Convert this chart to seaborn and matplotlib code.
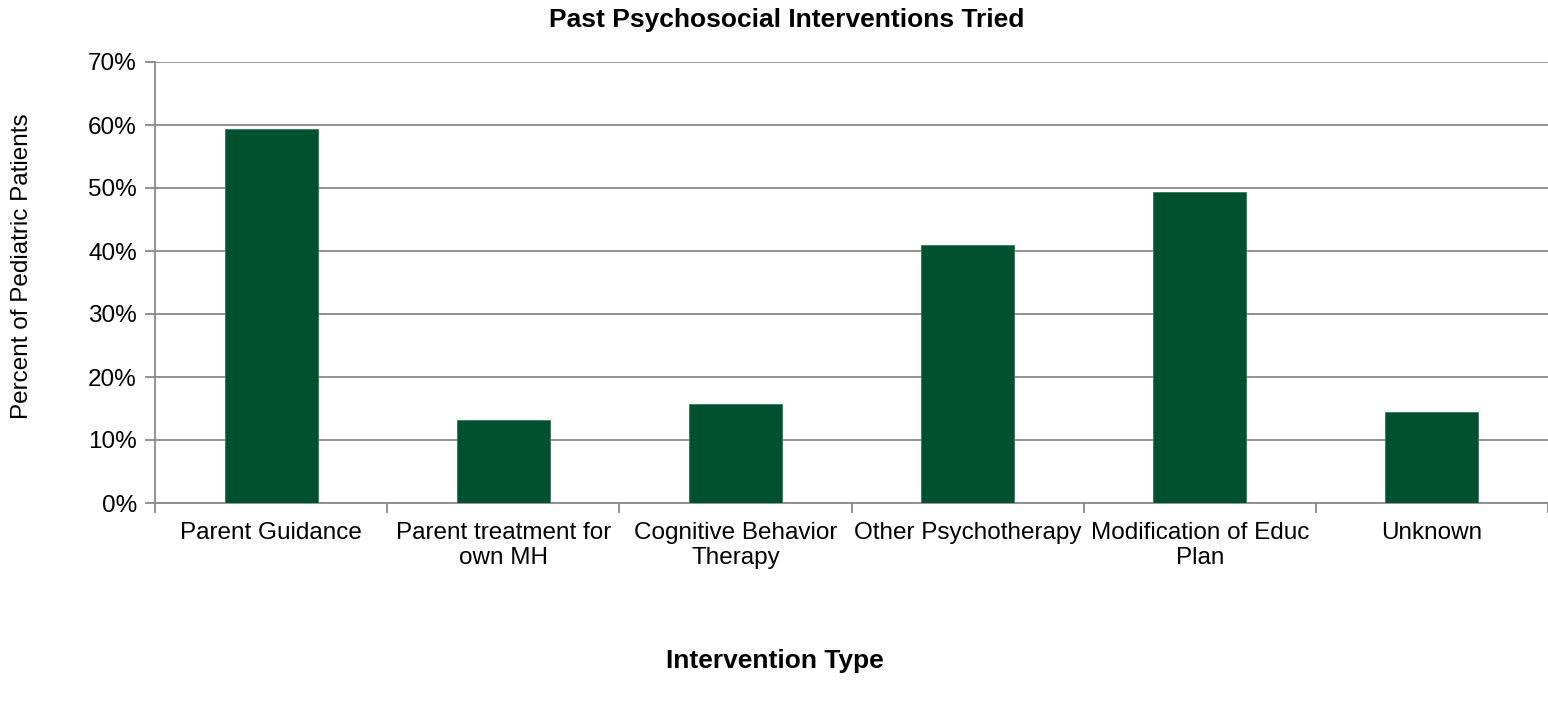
import matplotlib
matplotlib.use("Agg")
import matplotlib.pyplot as plt
from matplotlib.ticker import FixedLocator, PercentFormatter
import seaborn as sns
import pandas as pd

categories = [
    "Parent Guidance",
    "Parent treatment for\nown MH",
    "Cognitive Behavior\nTherapy",
    "Other Psychotherapy",
    "Modification of Educ\nPlan",
    "Unknown",
]
percent_patients = [59.4, 13.2, 15.7, 41.0, 49.4, 14.4]
y_ticks = [0, 10, 20, 30, 40, 50, 60, 70]

title = "Past Psychosocial Interventions Tried"
x_label = "Intervention Type"
y_label = "Percent of Pediatric Patients"

bar_color = "#01502F"
grid_color = "#898989"

sns.set_theme(style="white")
plt.rcParams["font.family"] = ["Liberation Sans", "DejaVu Sans"]

df = pd.DataFrame({"category": categories, "value": percent_patients})

fig = plt.figure(figsize=(15.48, 7.02), dpi=100)
ax = fig.add_axes([155 / 1548, 1 - 503 / 702, (1548 - 155) / 1548, (503 - 62) / 702])

sns.barplot(data=df, x="category", y="value", color=bar_color, width=0.4,
            saturation=1, edgecolor="#2E7A5A", linewidth=0.6, ax=ax, zorder=3)

ax.set_xlim(-0.5, len(categories) - 0.5)
ax.set_ylim(0, 70)
ax.yaxis.set_major_locator(FixedLocator(y_ticks))
ax.yaxis.set_major_formatter(PercentFormatter(decimals=0))
ax.grid(axis="y", color=grid_color, linewidth=1.3, zorder=0)
ax.grid(axis="x", visible=False)

for side in ["top", "right"]:
    ax.spines[side].set_visible(False)
for side in ["left", "bottom"]:
    ax.spines[side].set_color(grid_color)
    ax.spines[side].set_linewidth(1.3)

# category boundary ticks on the x axis
ax.xaxis.set_minor_locator(FixedLocator([i - 0.5 for i in range(len(categories) + 1)]))
ax.tick_params(axis="x", which="major", length=0, pad=14, labelsize=17.5, labelcolor="black")
ax.tick_params(axis="x", which="minor", bottom=True, length=7, width=1.3, color=grid_color, direction="out")
ax.tick_params(axis="y", which="major", left=True, length=7, width=1.3, color=grid_color,
               direction="out", pad=6, labelsize=17.5, labelcolor="black")

ax.set_xlabel("")
ax.set_ylabel("")
for lbl in ax.get_xticklabels():
    lbl.set_linespacing(1.15)

fig.text(787 / 1548, 1 - 20 / 702, title, ha="center", va="center",
         fontsize=19, fontweight="bold", color="black")
fig.text(775 / 1548, 1 - 661 / 702, x_label, ha="center", va="center",
         fontsize=19, fontweight="bold", color="black")
fig.text(22 / 1548, 1 - 266 / 702, y_label, ha="center", va="center",
         rotation=90, fontsize=17.5, color="black")

fig.savefig("out.png", dpi=100, facecolor="white")
